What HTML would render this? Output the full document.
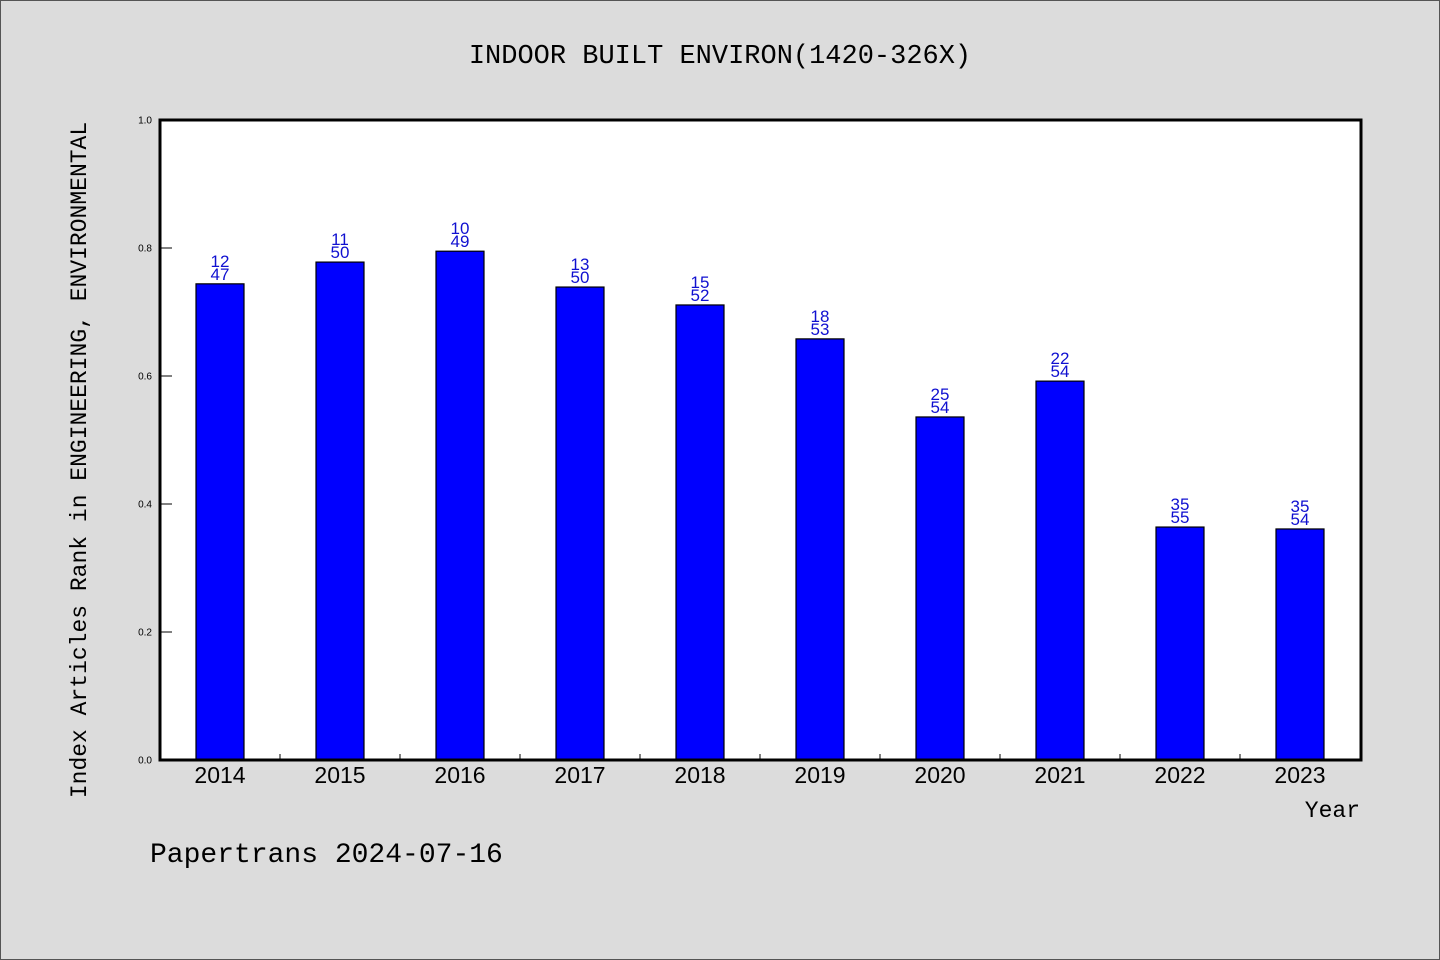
<!DOCTYPE html>
<html><head><meta charset="utf-8"><title>INDOOR BUILT ENVIRON</title>
<style>
html,body{margin:0;padding:0;background:#dcdcdc;}
svg{display:block;}
.mono{font-family:"WenQuanYi Zen Hei Mono","WenQuanYi Zen Hei","Liberation Mono",monospace;}
.sans{font-family:"Liberation Sans","DejaVu Sans",sans-serif;}
</style></head>
<body>
<svg id="chart" width="1440" height="960" xmlns="http://www.w3.org/2000/svg">
<rect x="0.5" y="0.5" width="1439" height="959" fill="#dcdcdc" stroke="#555" stroke-width="1"/>
<text class="mono" x="720" y="63" font-size="27" text-anchor="middle" fill="#000">INDOOR BUILT ENVIRON(1420-326X)</text>
<rect x="160" y="120" width="1201" height="640" fill="#fff"/>
<g id="bars"></g>
<g id="yaxis"></g>
<g id="xaxis"></g>
<rect x="160" y="120" width="1201" height="640" fill="none" stroke="#000" stroke-width="3"/>
<text class="mono" transform="translate(86,460) rotate(-90)" font-size="23" text-anchor="middle" fill="#000">Index Articles Rank in ENGINEERING, ENVIRONMENTAL</text>
<text class="mono" x="1360" y="817" font-size="23" text-anchor="end" fill="#000">Year</text>
<text class="mono" x="150" y="862" font-size="28" fill="#000">Papertrans 2024-07-16</text>
</svg>
<script>
const categories = ["2014","2015","2016","2017","2018","2019","2020","2021","2022","2023"];
const values = [0.744,0.778,0.795,0.739,0.711,0.658,0.536,0.592,0.364,0.361];
const ranks = [12,11,10,13,15,18,25,22,35,35];
const totals = [47,50,49,50,52,53,54,54,55,54];
const yTicks = [0.0,0.2,0.4,0.6,0.8,1.0];

const NS="http://www.w3.org/2000/svg";
const X0=160,W=1200,Y0=760,H=640;
const step=W/categories.length;
const xc=i=>X0+step*(i+0.5);
const y=v=>Y0-v*H;
function mk(tag,attrs,parent,text){const e=document.createElementNS(NS,tag);for(const k in attrs)e.setAttribute(k,attrs[k]);if(text!==undefined)e.textContent=text;parent.appendChild(e);return e;}
const bars=document.getElementById('bars'),ya=document.getElementById('yaxis'),xa=document.getElementById('xaxis');
categories.forEach((c,i)=>{
  const r=mk('rect',{x:xc(i)-24,y:y(values[i]),width:48,height:Y0-y(values[i]),fill:'#0000ff',stroke:'#000','stroke-width':1.2},bars);
  
  
  const t1=mk('text',{x:xc(i),y:y(values[i])-17,'font-size':17,'text-anchor':'middle',fill:'#1010d0',class:'sans'},bars,String(ranks[i]));
  
  
  const t2=mk('text',{x:xc(i),y:y(values[i])-4,'font-size':17,'text-anchor':'middle',fill:'#1010d0',class:'sans'},bars,String(totals[i]));
  
  
  const xl=mk('text',{x:xc(i),y:783,'font-size':23,'text-anchor':'middle',fill:'#000',class:'sans'},xa,c);
  
  
  if(i>0){
    const tk=mk('line',{x1:X0+step*i,x2:X0+step*i,y1:Y0,y2:Y0-6,stroke:'#000','stroke-width':1},xa);
    
    
  }
});
yTicks.forEach(v=>{
  const tk=mk('line',{x1:X0,x2:X0+12,y1:y(v),y2:y(v),stroke:'#000','stroke-width':1},ya);
  
  
  const tl=mk('text',{x:X0-8,y:y(v)+3.5,'font-size':10,'text-anchor':'end',fill:'#000',class:'sans'},ya,v.toFixed(1));
  
  
});
</script>
</body></html>
